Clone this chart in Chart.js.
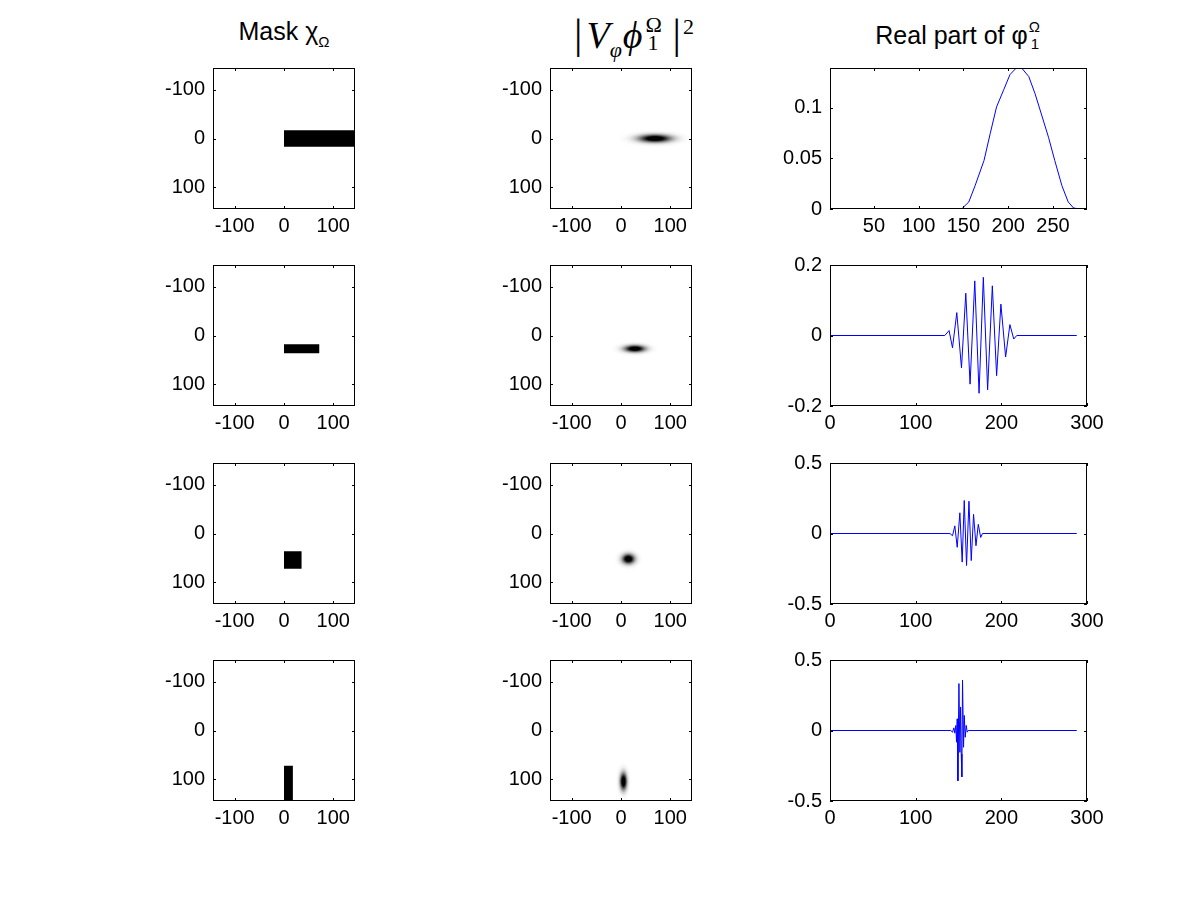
<!DOCTYPE html>
<html>
<head>
<meta charset="utf-8">
<script src="https://cdn.jsdelivr.net/npm/chart.js@4.4.1/dist/chart.umd.min.js"></script>
<style>
  body { margin: 0; background: #fff; width: 1200px; height: 900px; position: relative; overflow: hidden; }
  .panel { position: absolute; }
  .title { position: absolute; text-align: center; white-space: nowrap; color: #000;
           font-family: "Liberation Sans", Arial, sans-serif; font-size: 25px; line-height: 1; }
  .title sub { font-size: 15px; vertical-align: -7px; }
  .stack { display: inline-block; position: relative; width: 15px; height: 1em; }
  .stack .up { position: absolute; left: 1px; top: 0px; font-size: 15px; }
  .stack .dn { position: absolute; left: 3px; top: 17px; font-size: 15px; }
  .tex { font-family: "Liberation Serif", "DejaVu Serif", serif; font-size: 38px; }
  .tex i { font-style: italic; }
  .tex .bar { font-size: 42px; font-style: normal; }
  .tex .b1 { margin-right: 4px; }
  .tex .b2 { margin-left: 6px; margin-right: 2px; }
  .tex sub { font-size: 22px; vertical-align: -9px; margin-right: 1px; }
  .tex sup { font-size: 22px; vertical-align: 14px; }
  .tex .stack { width: 24px; }
  .tex .stack .up { top: 4px; left: 3px; font-size: 22px; font-style: normal; }
  .tex .stack .dn { top: 22px; left: 5px; font-size: 22px; font-style: normal; }
</style>
</head>
<body>
<div class="title" style="left:134px;top:19px;width:300px">Mask χ<sub>Ω</sub></div>
<div class="title tex" style="left:484px;top:10px;width:300px"><span class="bar b1">|</span><i>V</i><sub><i>φ</i></sub><i>ϕ</i><span class="stack"><span class="up">Ω</span><span class="dn">1</span></span><span class="bar b2">|</span><sup>2</sup></div>
<div class="title" style="left:809px;top:19px;width:300px">Real part of φ<span class="stack"><span class="up">Ω</span><span class="dn">1</span></span></div>

<script>
// Mask rectangles (time / frequency units), one per row
const maskX0 = [0, 0, 0, 0];
const maskX1 = [144, 72, 36, 18];
const maskY0 = [-17, 18, 36, 72];
const maskY1 = [17, 36, 72, 144];

// Spectrogram blobs: centre and spread, one per row
const blobX = [69, 28, 15, 5];
const blobY = [0, 27, 52, 104];
const blobSx = [22, 14, 8.5, 4.7];
const blobSy = [5.4, 4.7, 6.7, 11.8];

// Image axes ticks
const imgTicks = [-100, 0, 100];

// Real part of phi_1 for each row
const sig1X = [1, 148, 156, 163, 173, 180, 187, 195, 202, 209, 215, 223, 230, 237, 245, 252, 260, 267, 273, 280, 288];
const sig1Y = [0, 0, 0.007, 0.023, 0.048, 0.075, 0.101, 0.118, 0.133, 0.1395, 0.1395, 0.131, 0.114, 0.094, 0.071, 0.048, 0.023, 0.007, 0.001, 0, 0];

const sig2X = [1, 134, 139, 143, 148, 153.5, 158.5, 163.5, 169, 174, 179, 184, 189.5, 194.5, 199.5, 205, 210, 214.5, 218, 288];
const sig2Y = [0, 0, 0.014, -0.035, 0.065, -0.092, 0.12, -0.138, 0.155, -0.164, 0.165, -0.154, 0.141, -0.114, 0.089, -0.061, 0.031, -0.01, 0, 0];

const sig3X = [1, 140, 143, 145.7, 148.5, 151.6, 154.3, 156.7, 159.4, 162.2, 164.9, 167.6, 170.4, 173.1, 175.9, 178, 288];
const sig3Y = [0, 0, -0.016, 0.054, -0.098, 0.147, -0.203, 0.234, -0.227, 0.229, -0.192, 0.136, -0.087, 0.065, -0.028, 0, 0];

const sig4X = [1, 141, 143, 144.6, 145.7, 146.9, 147.7, 148.5, 149.3, 150.5, 151.6, 152.4, 153.2, 153.9, 154.7, 155.9, 156.7, 157.9, 159, 160.2, 161.4, 288];
const sig4Y = [0, 0, -0.012, 0.019, -0.019, 0.036, -0.083, 0.083, -0.357, 0.333, -0.155, 0.167, -0.167, -0.329, 0.357, -0.119, 0.107, -0.048, 0.036, -0.012, 0, 0];

const sigX = [sig1X, sig2X, sig3X, sig4X];
const sigY = [sig1Y, sig2Y, sig3Y, sig4Y];

// Axis ranges and ticks for the signal column
const sigXMin = [1, 0, 0, 0];
const sigXMax = [288, 300, 300, 300];
const sigYMin = [0, -0.2, -0.5, -0.5];
const sigYMax = [0.1395, 0.2, 0.5, 0.5];
const sigXTicks = [[50, 100, 150, 200, 250], [0, 100, 200, 300], [0, 100, 200, 300], [0, 100, 200, 300]];
const sigYTicks = [[0, 0.05, 0.1], [-0.2, 0, 0.2], [-0.5, 0, 0.5], [-0.5, 0, 0.5]];

// Layout of the 4x3 grid (axes boxes in page pixels)
const colLeft = [213, 550, 830];
const colWidth = [142, 142, 257];
const rowTop = [68, 265, 463, 660];
const AX_H = 141;
const PAD_L = 80, PAD_T = 26, PAD_R = 26, PAD_B = 40;
const FONT = { family: '"Liberation Sans", Arial, sans-serif', size: 20 };

function axis(min, max, ticks, isX, reverse) {
  return {
    type: "linear",
    min,
    max,
    reverse: !!reverse,
    grid: { display: false, drawTicks: false },
    border: { display: false },
    afterBuildTicks: (s) => {
      s.ticks = ticks.map((v) => ({ value: v }));
    },
    afterFit: (s) => {
      if (isX) s.height = PAD_B;
      else s.width = PAD_L;
    },
    ticks: {
      color: "#000",
      font: FONT,
      padding: isX ? 5 : 8,
      maxRotation: 0,
      autoSkip: false,
      callback: (v) => String(v),
    },
  };
}

// Box around the axes with short inward ticks on all four sides
const framePlugin = {
  id: "frame",
  afterDatasetsDraw(chart) {
    const { ctx, chartArea: a, scales } = chart;
    const L = 3;
    ctx.save();
    ctx.strokeStyle = "#000";
    ctx.lineWidth = 1;
    ctx.strokeRect(a.left + 0.5, a.top + 0.5, a.right - a.left - 1, a.bottom - a.top - 1);
    ctx.beginPath();
    scales.x.ticks.forEach((t) => {
      const p = Math.round(scales.x.getPixelForValue(t.value)) + 0.5;
      ctx.moveTo(p, a.bottom);
      ctx.lineTo(p, a.bottom - L);
      ctx.moveTo(p, a.top);
      ctx.lineTo(p, a.top + L);
    });
    scales.y.ticks.forEach((t) => {
      const p = Math.round(scales.y.getPixelForValue(t.value)) + 0.5;
      ctx.moveTo(a.left, p);
      ctx.lineTo(a.left + L, p);
      ctx.moveTo(a.right, p);
      ctx.lineTo(a.right - L, p);
    });
    ctx.stroke();
    ctx.restore();
  },
};

// Gaussian-like dark spot for the spectrogram panels
function blobPlugin(i) {
  return {
    id: "blob" + i,
    beforeDatasetsDraw(chart) {
      const { ctx, chartArea: a, scales } = chart;
      const x = scales.x, y = scales.y;
      const cx = x.getPixelForValue(blobX[i]);
      const cy = y.getPixelForValue(blobY[i]);
      const rx = Math.abs(x.getPixelForValue(blobX[i] + blobSx[i]) - cx);
      const ry = Math.abs(y.getPixelForValue(blobY[i] + blobSy[i]) - cy);
      const R = 3.5;
      ctx.save();
      ctx.beginPath();
      ctx.rect(a.left, a.top, a.right - a.left, a.bottom - a.top);
      ctx.clip();
      ctx.translate(cx, cy);
      ctx.scale(rx, ry);
      const g = ctx.createRadialGradient(0, 0, 0, 0, 0, R);
      for (let k = 0; k <= 20; k++) {
        const r = (k / 20) * R;
        const alpha = Math.min(1, 1.3 * Math.exp((-r * r) / 2));
        g.addColorStop(k / 20, "rgba(0,0,0," + alpha.toFixed(4) + ")");
      }
      ctx.fillStyle = g;
      ctx.beginPath();
      ctx.arc(0, 0, R, 0, Math.PI * 2);
      ctx.fill();
      ctx.restore();
    },
  };
}

function makePanel(row, col, config) {
  const div = document.createElement("div");
  div.className = "panel";
  const w = colWidth[col] + PAD_L + PAD_R;
  const h = AX_H + PAD_T + PAD_B;
  div.style.left = colLeft[col] - PAD_L + "px";
  div.style.top = rowTop[row] - PAD_T + "px";
  const canvas = document.createElement("canvas");
  canvas.width = w;
  canvas.height = h;
  div.appendChild(canvas);
  document.body.appendChild(div);

  config.options = Object.assign(
    {
      responsive: false,
      animation: false,
      events: [],
      layout: { padding: { left: 0, top: PAD_T, right: PAD_R, bottom: 0 } },
      plugins: { legend: { display: false }, tooltip: { enabled: false } },
    },
    config.options
  );
  return new Chart(canvas.getContext("2d"), config);
}

for (let r = 0; r < 4; r++) {
  // Column 1: mask
  makePanel(r, 0, {
    type: "line",
    data: {
      datasets: [
        {
          data: [
            { x: maskX0[r], y: maskY1[r] },
            { x: maskX1[r], y: maskY1[r] },
          ],
          fill: { value: maskY0[r] },
          backgroundColor: "#000",
          borderColor: "rgba(0,0,0,0)",
          borderWidth: 0,
          pointRadius: 0,
        },
      ],
    },
    options: {
      scales: {
        x: axis(-144, 144, imgTicks, true, false),
        y: axis(-144, 144, imgTicks, false, true),
      },
    },
    plugins: [framePlugin],
  });

  // Column 2: spectrogram
  makePanel(r, 1, {
    type: "scatter",
    data: { datasets: [{ data: [] }] },
    options: {
      scales: {
        x: axis(-144, 144, imgTicks, true, false),
        y: axis(-144, 144, imgTicks, false, true),
      },
    },
    plugins: [blobPlugin(r), framePlugin],
  });

  // Column 3: real part of the signal
  makePanel(r, 2, {
    type: "line",
    data: {
      datasets: [
        {
          data: sigX[r].map((x, i) => ({ x, y: sigY[r][i] })),
          borderColor: "#0000ff",
          borderWidth: 1,
          pointRadius: 0,
          tension: 0,
          fill: false,
        },
      ],
    },
    options: {
      scales: {
        x: axis(sigXMin[r], sigXMax[r], sigXTicks[r], true, false),
        y: axis(sigYMin[r], sigYMax[r], sigYTicks[r], false, false),
      },
    },
    plugins: [framePlugin],
  });
}
</script>
</body>
</html>
